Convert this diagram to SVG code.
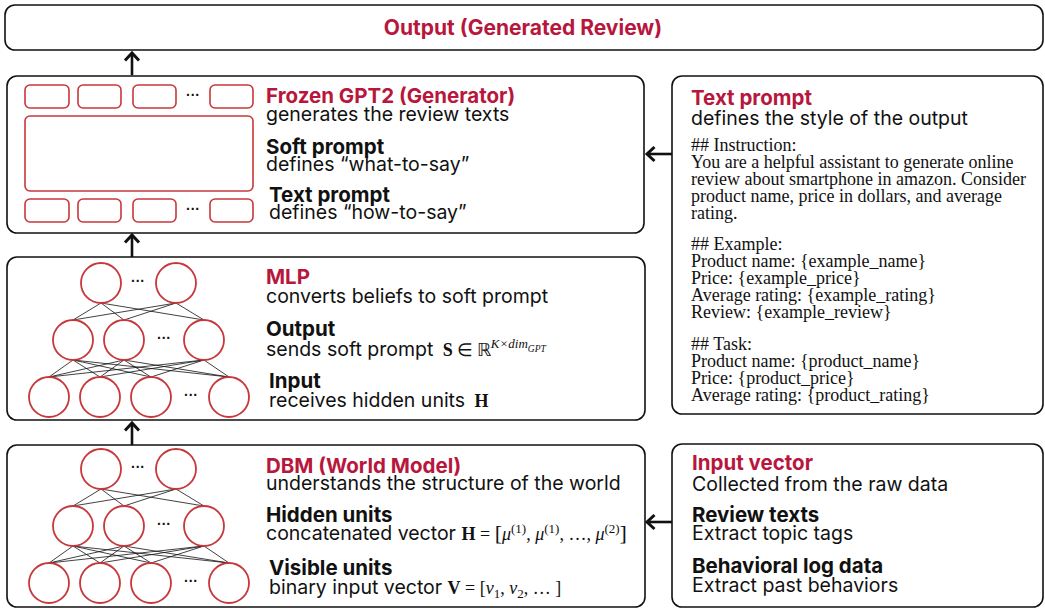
<svg xmlns="http://www.w3.org/2000/svg" width="1045" height="609" viewBox="0 0 1045 609">
<style>
.box{fill:#fff;stroke:#111;stroke-width:1.6}
.cell{fill:#fff;stroke:#c8373a;stroke-width:1.6}
.neu{fill:#fff;stroke:#c8373a;stroke-width:1.8}
.edge{stroke:#111;stroke-width:0.8}
.t{font-family:Inter,"Liberation Sans",sans-serif;font-size:19.5px;fill:#111}
.h{font-family:Inter,"Liberation Sans",sans-serif;font-size:20.5px;font-weight:700;fill:#111}
.r{font-family:Inter,"Liberation Sans",sans-serif;font-size:20.5px;font-weight:700;fill:#b8173d}
.m{font-family:"Liberation Serif",serif;font-size:18px;fill:#111}
.s{font-family:"Liberation Serif",serif;font-size:18px;fill:#111}
.dots{font-family:"Liberation Sans",sans-serif;font-size:14px;font-weight:700;fill:#111}
.arr{stroke:#111;stroke-width:2.6;fill:none}
</style>
<defs>
<marker id="ah" markerUnits="userSpaceOnUse" markerWidth="20" markerHeight="20" viewBox="-10 -10 20 20" refX="0" refY="0" orient="auto">
<path d="M-7.5,-7 L0,0 L-7.5,7" stroke="#111" stroke-width="3" fill="none"/>
</marker>
<g id="net">
<g class="edge">
<line x1="101" y1="303" x2="73" y2="320"/><line x1="101" y1="303" x2="124" y2="320"/><line x1="101" y1="303" x2="204" y2="320"/>
<line x1="176" y1="303" x2="73" y2="320"/><line x1="176" y1="303" x2="124" y2="320"/><line x1="176" y1="303" x2="204" y2="320"/>
<line x1="73" y1="360" x2="49" y2="377"/><line x1="73" y1="360" x2="100" y2="377"/><line x1="73" y1="360" x2="151" y2="377"/><line x1="73" y1="360" x2="229" y2="377"/>
<line x1="124" y1="360" x2="49" y2="377"/><line x1="124" y1="360" x2="100" y2="377"/><line x1="124" y1="360" x2="151" y2="377"/><line x1="124" y1="360" x2="229" y2="377"/>
<line x1="204" y1="360" x2="49" y2="377"/><line x1="204" y1="360" x2="100" y2="377"/><line x1="204" y1="360" x2="151" y2="377"/><line x1="204" y1="360" x2="229" y2="377"/>
</g>
<circle class="neu" cx="101" cy="283" r="20"/><circle class="neu" cx="176" cy="283" r="20"/>
<circle class="neu" cx="73" cy="340" r="20"/><circle class="neu" cx="124" cy="340" r="20"/><circle class="neu" cx="204" cy="340" r="20"/>
<circle class="neu" cx="49" cy="397" r="20"/><circle class="neu" cx="100" cy="397" r="20"/><circle class="neu" cx="151" cy="397" r="20"/><circle class="neu" cx="229" cy="397" r="20"/>
<text class="dots" x="138" y="286" text-anchor="middle">···</text>
<text class="dots" x="164" y="343" text-anchor="middle">···</text>
<text class="dots" x="191" y="400" text-anchor="middle">···</text>
</g>
</defs>

<g id="connectors">
<line class="arr" x1="132" y1="75" x2="132" y2="53" marker-end="url(#ah)"/>
<line class="arr" x1="132" y1="257" x2="132" y2="235" marker-end="url(#ah)"/>
<line class="arr" x1="132" y1="445" x2="132" y2="423" marker-end="url(#ah)"/>
<line class="arr" x1="672" y1="154" x2="647" y2="154" marker-end="url(#ah)"/>
<line class="arr" x1="672" y1="522" x2="647" y2="522" marker-end="url(#ah)"/>
</g>

<g id="output">
<rect class="box" x="5" y="5" width="1038" height="45" rx="10"/>
<text class="r" x="523" y="35" text-anchor="middle" style="font-size:21px">Output (Generated Review)</text>
</g>

<g id="gpt2">
<rect class="box" x="7" y="76" width="637" height="157" rx="10"/>
<rect class="cell" x="25" y="85" width="44" height="23" rx="5"/>
<rect class="cell" x="78" y="85" width="43" height="23" rx="5"/>
<rect class="cell" x="133" y="85" width="43" height="23" rx="5"/>
<rect class="cell" x="210" y="85" width="43" height="23" rx="5"/>
<text class="dots" x="193" y="100" text-anchor="middle">···</text>
<rect class="cell" x="25" y="116" width="228" height="75" rx="5"/>
<rect class="cell" x="25" y="199" width="44" height="23" rx="5"/>
<rect class="cell" x="78" y="199" width="43" height="23" rx="5"/>
<rect class="cell" x="133" y="199" width="43" height="23" rx="5"/>
<rect class="cell" x="210" y="199" width="43" height="23" rx="5"/>
<text class="dots" x="193" y="214" text-anchor="middle">···</text>
<text class="r" x="266" y="103">Frozen GPT2 (Generator)</text>
<text class="t" x="266" y="121">generates the review texts</text>
<text class="h" x="266" y="154">Soft prompt</text>
<text class="t" x="266" y="171">defines “what-to-say”</text>
<text class="h" x="269" y="202">Text prompt</text>
<text class="t" x="269" y="219">defines “how-to-say”</text>
</g>

<g id="mlp">
<rect class="box" x="7" y="257" width="638" height="163" rx="10"/>
<use href="#net"/>
<text class="r" x="266" y="284">MLP</text>
<text class="t" x="266" y="303">converts beliefs to soft prompt</text>
<text class="h" x="266" y="336">Output</text>
<text class="t" x="266" y="356">sends soft prompt <tspan class="m" dx="4" font-weight="700">S</tspan><tspan class="m" dx="4">∈</tspan><tspan class="m" dx="4">ℝ</tspan><tspan class="m" font-style="italic" style="font-size:13px" dy="-8">K×dim</tspan><tspan class="m" font-style="italic" style="font-size:9.5px" dy="4">GPT</tspan></text>
<text class="h" x="269" y="388">Input</text>
<text class="t" x="269" y="407">receives hidden units <tspan class="m" dx="4" font-weight="700">H</tspan></text>
</g>

<g id="dbm">
<rect class="box" x="7" y="445" width="638" height="162" rx="10"/>
<use href="#net" transform="translate(0,186)"/>
<text class="r" x="266" y="473">DBM (World Model)</text>
<text class="t" x="266" y="490">understands the structure of the world</text>
<text class="h" x="266" y="522">Hidden units</text>
<text class="t" x="266" y="540">concatenated vector <tspan class="m" font-weight="700">H</tspan><tspan class="m"> = </tspan><tspan class="m" style="font-size:22px">[</tspan><tspan class="m" font-style="italic">μ</tspan><tspan class="m" style="font-size:13px" dy="-7">(1)</tspan><tspan class="m" dy="7">, </tspan><tspan class="m" font-style="italic">μ</tspan><tspan class="m" style="font-size:13px" dy="-7">(1)</tspan><tspan class="m" dy="7">, …, </tspan><tspan class="m" font-style="italic">μ</tspan><tspan class="m" style="font-size:13px" dy="-7">(2)</tspan><tspan class="m" style="font-size:22px" dy="7">]</tspan></text>
<text class="h" x="269" y="575">Visible units</text>
<text class="t" x="269" y="594">binary input vector <tspan class="m" font-weight="700">V</tspan><tspan class="m"> = [</tspan><tspan class="m" font-style="italic">v</tspan><tspan class="m" style="font-size:13px" dy="4">1</tspan><tspan class="m" dy="-4">, </tspan><tspan class="m" font-style="italic">v</tspan><tspan class="m" style="font-size:13px" dy="4">2</tspan><tspan class="m" dy="-4">, … ]</tspan></text>
</g>

<g id="textprompt">
<rect class="box" x="672" y="76" width="371" height="338" rx="10"/>
<text class="r" x="691" y="105">Text prompt</text>
<text class="t" x="691" y="125">defines the style of the output</text>
<text class="s" x="691" y="151">## Instruction:</text>
<text class="s" x="691" y="168">You are a helpful assistant to generate online</text>
<text class="s" x="691" y="185">review about smartphone in amazon. Consider</text>
<text class="s" x="691" y="202">product name, price in dollars, and average</text>
<text class="s" x="691" y="219">rating.</text>
<text class="s" x="691" y="250">## Example:</text>
<text class="s" x="691" y="267">Product name: {example_name}</text>
<text class="s" x="691" y="284">Price: {example_price}</text>
<text class="s" x="691" y="301">Average rating: {example_rating}</text>
<text class="s" x="691" y="318">Review: {example_review}</text>
<text class="s" x="691" y="350">## Task:</text>
<text class="s" x="691" y="367">Product name: {product_name}</text>
<text class="s" x="691" y="384">Price: {product_price}</text>
<text class="s" x="691" y="401">Average rating: {product_rating}</text>
</g>

<g id="inputvector">
<rect class="box" x="672" y="444" width="371" height="163" rx="10"/>
<text class="r" x="692" y="470">Input vector</text>
<text class="t" x="692" y="491">Collected from the raw data</text>
<text class="h" x="692" y="522">Review texts</text>
<text class="t" x="692" y="540">Extract topic tags</text>
<text class="h" x="692" y="573">Behavioral log data</text>
<text class="t" x="692" y="592">Extract past behaviors</text>
</g>
</svg>
